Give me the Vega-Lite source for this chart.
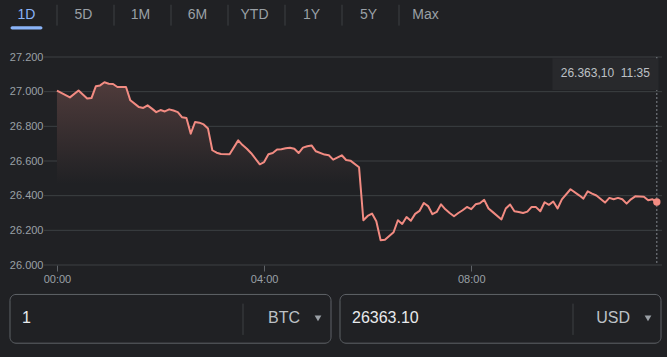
{
  "$schema": "https://vega.github.io/schema/vega-lite/v6.json",
  "background": "#202124",
  "padding": 0,
  "spacing": 0,
  "bounds": "flush",
  "config": {
    "font": "Liberation Sans",
    "view": {"stroke": null},
    "concat": {"spacing": 0}
  },
  "vconcat": [
    {
      "width": 456,
      "height": 57,
      "data": {"values": [
        {"t": "1D", "sel": 1}, {"t": "5D", "sel": 0}, {"t": "1M", "sel": 0}, {"t": "6M", "sel": 0},
        {"t": "YTD", "sel": 0}, {"t": "1Y", "sel": 0}, {"t": "5Y", "sel": 0}, {"t": "Max", "sel": 0}
      ]},
      "encoding": {
        "x": {"field": "t", "type": "nominal", "scale": {"domain": ["1D", "5D", "1M", "6M", "YTD", "1Y", "5Y", "Max"], "paddingInner": 0, "paddingOuter": 0}, "axis": null}
      },
      "layer": [
        {
          "mark": {"type": "text", "fontSize": 14, "baseline": "middle", "align": "center", "dx": -2},
          "encoding": {
            "text": {"field": "t"},
            "y": {"datum": 16, "type": "quantitative", "scale": {"domain": [0, 57], "reverse": true}, "axis": null},
            "color": {"condition": {"test": "datum.sel == 1", "value": "#8ab4f8"}, "value": "#9aa0a6"}
          }
        },
        {
          "transform": [{"filter": "datum.t != '1D'"}],
          "mark": {"type": "rule", "color": "#3c4043", "strokeWidth": 1},
          "encoding": {
            "x": {"field": "t", "type": "nominal", "bandPosition": 0},
            "y": {"datum": 5, "type": "quantitative"},
            "y2": {"datum": 27}
          }
        },
        {
          "transform": [{"filter": "datum.sel == 1"}],
          "mark": {"type": "bar", "color": "#8ab4f8", "width": {"band": 0.56}, "cornerRadius": 2, "xOffset": -2},
          "encoding": {
            "y": {"datum": 27.5, "type": "quantitative"},
            "y2": {"datum": 31}
          }
        }
      ]
    },
    {
      "width": 662,
      "height": 208,
      "data": {"values": [
        {"m": 0, "p": 27006}, {"m": 15, "p": 26967}, {"m": 25, "p": 27007}, {"m": 35, "p": 26960},
        {"m": 40, "p": 26963}, {"m": 45, "p": 27031}, {"m": 50, "p": 27036}, {"m": 55, "p": 27054},
        {"m": 60, "p": 27046}, {"m": 65, "p": 27044}, {"m": 70, "p": 27027}, {"m": 80, "p": 27027},
        {"m": 85, "p": 26950}, {"m": 95, "p": 26911}, {"m": 100, "p": 26906}, {"m": 105, "p": 26921},
        {"m": 110, "p": 26902}, {"m": 115, "p": 26882}, {"m": 120, "p": 26894}, {"m": 125, "p": 26886},
        {"m": 130, "p": 26898}, {"m": 135, "p": 26891}, {"m": 140, "p": 26882}, {"m": 145, "p": 26852},
        {"m": 150, "p": 26848}, {"m": 155, "p": 26758}, {"m": 160, "p": 26825}, {"m": 165, "p": 26821},
        {"m": 170, "p": 26811}, {"m": 175, "p": 26787}, {"m": 180, "p": 26662}, {"m": 185, "p": 26648},
        {"m": 190, "p": 26640}, {"m": 200, "p": 26639}, {"m": 210, "p": 26719}, {"m": 215, "p": 26692},
        {"m": 220, "p": 26671}, {"m": 225, "p": 26645}, {"m": 235, "p": 26581}, {"m": 240, "p": 26594},
        {"m": 245, "p": 26639}, {"m": 250, "p": 26646}, {"m": 255, "p": 26666}, {"m": 260, "p": 26668},
        {"m": 265, "p": 26673}, {"m": 270, "p": 26677}, {"m": 275, "p": 26671}, {"m": 280, "p": 26646},
        {"m": 285, "p": 26677}, {"m": 290, "p": 26685}, {"m": 295, "p": 26690}, {"m": 300, "p": 26656},
        {"m": 310, "p": 26637}, {"m": 315, "p": 26633}, {"m": 320, "p": 26608}, {"m": 330, "p": 26633},
        {"m": 335, "p": 26606}, {"m": 340, "p": 26602}, {"m": 350, "p": 26564}, {"m": 355, "p": 26258},
        {"m": 360, "p": 26283}, {"m": 365, "p": 26297}, {"m": 370, "p": 26252}, {"m": 375, "p": 26143},
        {"m": 380, "p": 26145}, {"m": 390, "p": 26189}, {"m": 395, "p": 26258}, {"m": 400, "p": 26237},
        {"m": 405, "p": 26277}, {"m": 410, "p": 26255}, {"m": 415, "p": 26295}, {"m": 420, "p": 26312},
        {"m": 425, "p": 26358}, {"m": 430, "p": 26340}, {"m": 435, "p": 26293}, {"m": 440, "p": 26306},
        {"m": 445, "p": 26350}, {"m": 450, "p": 26321}, {"m": 455, "p": 26300}, {"m": 460, "p": 26281},
        {"m": 465, "p": 26300}, {"m": 470, "p": 26316}, {"m": 475, "p": 26335}, {"m": 480, "p": 26322},
        {"m": 485, "p": 26350}, {"m": 490, "p": 26356}, {"m": 495, "p": 26376}, {"m": 500, "p": 26326},
        {"m": 505, "p": 26305}, {"m": 515, "p": 26263}, {"m": 520, "p": 26326}, {"m": 525, "p": 26349},
        {"m": 530, "p": 26310}, {"m": 535, "p": 26306}, {"m": 540, "p": 26300}, {"m": 545, "p": 26308},
        {"m": 550, "p": 26335}, {"m": 555, "p": 26334}, {"m": 560, "p": 26310}, {"m": 565, "p": 26362},
        {"m": 570, "p": 26347}, {"m": 575, "p": 26366}, {"m": 580, "p": 26326}, {"m": 585, "p": 26379},
        {"m": 595, "p": 26437}, {"m": 605, "p": 26402}, {"m": 610, "p": 26383}, {"m": 615, "p": 26425},
        {"m": 620, "p": 26412}, {"m": 625, "p": 26401}, {"m": 635, "p": 26360}, {"m": 640, "p": 26387},
        {"m": 645, "p": 26379}, {"m": 650, "p": 26387}, {"m": 655, "p": 26379}, {"m": 660, "p": 26354},
        {"m": 665, "p": 26379}, {"m": 670, "p": 26396}, {"m": 680, "p": 26394}, {"m": 685, "p": 26373},
        {"m": 690, "p": 26379}, {"m": 695, "p": 26363.1}
      ]},
      "layer": [
        {
          "data": {"values": [{"v": 26000}, {"v": 26200}, {"v": 26400}, {"v": 26600}, {"v": 26800}, {"v": 27000}, {"v": 27200}]},
          "mark": {"type": "rule", "color": "#3c4043", "strokeWidth": 1},
          "encoding": {
            "x": {"datum": -15, "type": "quantitative", "scale": {"domain": [-66, 701], "nice": false, "zero": false}},
            "x2": {"datum": 701},
            "y": {
              "field": "v", "type": "quantitative",
              "scale": {"domain": [26000, 27200], "nice": false, "zero": false},
              "axis": {
                "values": [26000, 26200, 26400, 26600, 26800, 27000, 27200],
                "tickCount": 7,
                "labelExpr": "replace(format(datum.value, ',.0f'), ',', '.')",
                "title": null, "domain": false, "ticks": false, "grid": false,
                "offset": -44, "labelPadding": 1, "labelOverlap": false, "labelBound": false,
                "labelColor": "#9aa0a6", "labelFontSize": 11
              }
            }
          }
        },
        {
          "transform": [{"filter": "datum.p > 26470"}],
          "mark": {
            "type": "area",
            "color": {
              "gradient": "linear", "x1": 0, "y1": 0, "x2": 0, "y2": 1,
              "stops": [{"offset": 0, "color": "#4f3b3b"}, {"offset": 1, "color": "#202124"}]
            }
          },
          "encoding": {
            "x": {"field": "m", "type": "quantitative"},
            "y": {"field": "p", "type": "quantitative"},
            "y2": {"datum": 26470}
          }
        },
        {
          "mark": {"type": "line", "color": "#f28b82", "strokeWidth": 2, "strokeJoin": "round"},
          "encoding": {
            "x": {
              "field": "m", "type": "quantitative",
              "axis": {
                "values": [0, 240, 480],
                "labelExpr": "(datum.value < 600 ? '0' : '') + floor(datum.value / 60) + ':00'",
                "title": null, "domain": false, "grid": false,
                "ticks": true, "tickSize": 6, "tickColor": "#5f6368",
                "labelColor": "#9aa0a6", "labelFontSize": 11, "labelPadding": 2, "labelFlush": false
              }
            },
            "y": {"field": "p", "type": "quantitative"}
          }
        },
        {
          "transform": [{"filter": "datum.m == 695"}],
          "mark": {"type": "rule", "color": "#9aa0a6", "strokeWidth": 1, "strokeDash": [2, 2], "opacity": 0.8},
          "encoding": {"x": {"field": "m", "type": "quantitative"}}
        },
        {
          "transform": [{"filter": "datum.m == 695"}],
          "mark": {"type": "point", "filled": true, "color": "#f28b82", "size": 55, "opacity": 1},
          "encoding": {
            "x": {"field": "m", "type": "quantitative"},
            "y": {"field": "p", "type": "quantitative"}
          }
        },
        {
          "data": {"values": [{"label": "26.363,10\u00a0\u00a011:35"}]},
          "mark": {"type": "rect", "color": "#28292c"},
          "encoding": {
            "x": {"datum": 574, "type": "quantitative"},
            "x2": {"datum": 697},
            "y": {"datum": 27193, "type": "quantitative"},
            "y2": {"datum": 27010}
          }
        },
        {
          "data": {"values": [{"label": "26.363,10\u00a0\u00a011:35"}]},
          "mark": {"type": "text", "align": "right", "baseline": "middle", "fontSize": 12, "color": "#bdc1c6"},
          "encoding": {
            "x": {"datum": 687, "type": "quantitative"},
            "y": {"datum": 27108, "type": "quantitative"},
            "text": {"field": "label"}
          }
        }
      ]
    },
    {
      "width": 667,
      "height": 92,
      "data": {"values": [
        {"side": "from", "amount": "1", "cur": "BTC"},
        {"side": "to", "amount": "26363.10", "cur": "USD"}
      ]},
      "encoding": {
        "x": {"field": "side", "type": "nominal", "scale": {"domain": ["from", "to"], "paddingInner": 0.02727, "paddingOuter": 0.02424, "align": 0.625}, "axis": null}
      },
      "layer": [
        {
          "mark": {"type": "rect", "fill": "#202124", "stroke": "#5f6368", "strokeWidth": 1, "cornerRadius": 6},
          "encoding": {
            "y": {"datum": 32, "type": "quantitative", "scale": {"domain": [0, 92], "reverse": true}, "axis": null},
            "y2": {"datum": 85}
          }
        },
        {
          "mark": {"type": "text", "align": "left", "baseline": "middle", "fontSize": 16, "dx": 12, "color": "#e8eaed"},
          "encoding": {
            "x": {"field": "side", "type": "nominal", "bandPosition": 0},
            "y": {"datum": 58, "type": "quantitative"},
            "text": {"field": "amount"}
          }
        },
        {
          "mark": {"type": "rule", "color": "#3c4043", "strokeWidth": 1},
          "encoding": {
            "x": {"field": "side", "type": "nominal", "bandPosition": 0.7259},
            "y": {"datum": 42, "type": "quantitative"},
            "y2": {"datum": 76}
          }
        },
        {
          "mark": {"type": "text", "align": "right", "baseline": "middle", "fontSize": 16, "color": "#bdc1c6"},
          "encoding": {
            "x": {"field": "side", "type": "nominal", "bandPosition": 0.9034},
            "y": {"datum": 58, "type": "quantitative"},
            "text": {"field": "cur"}
          }
        },
        {
          "mark": {"type": "point", "shape": "triangle-down", "filled": true, "size": 45, "color": "#9aa0a6", "opacity": 1},
          "encoding": {
            "x": {"field": "side", "type": "nominal", "bandPosition": 0.9595},
            "y": {"datum": 58, "type": "quantitative"}
          }
        }
      ]
    }
  ]
}
